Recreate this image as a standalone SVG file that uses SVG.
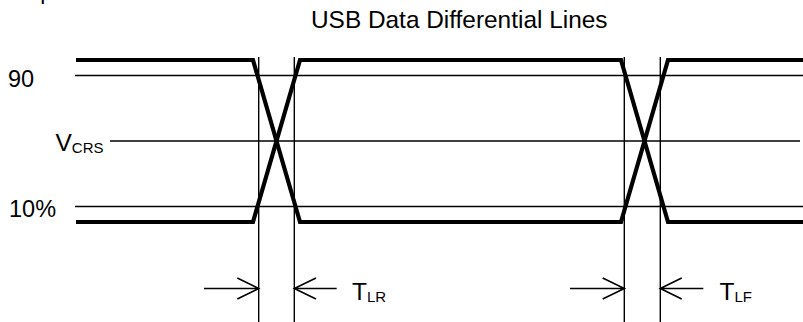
<svg xmlns="http://www.w3.org/2000/svg" width="803" height="322" viewBox="0 0 803 322">
<style>
text{font-family:"Liberation Sans",Arial,sans-serif;fill:#000}
.lbl{font-size:23.5px}
.big{font-size:24.5px}
.sub{font-size:15px}
.thin{stroke:#000;stroke-width:1.4;fill:none}
.sig{stroke:#000;stroke-width:4.2;fill:none;stroke-linejoin:miter}
.arr{stroke:#000;stroke-width:1.6;fill:none}
</style>
<rect width="803" height="322" fill="#fff"/>
<text x="5" y="-1.5" font-size="22">Requirements</text>
<g id="title"><text x="311" y="27.5" font-size="24.4">USB Data Differential Lines</text></g>
<g id="levels">
<line class="thin" x1="75" y1="75.5" x2="803" y2="75.5"/>
<line class="thin" x1="110" y1="141" x2="800" y2="141"/>
<line class="thin" x1="75" y1="206.5" x2="803" y2="206.5"/>
<text class="lbl" x="8" y="87">90</text>
<text class="big" x="55.5" y="151">V<tspan class="sub" dy="2">CRS</tspan></text>
<text class="lbl" x="9" y="217.3">10%</text>
</g>
<g id="markers">
<line class="thin" x1="258.7" y1="57" x2="258.7" y2="322"/>
<line class="thin" x1="294.3" y1="57" x2="294.3" y2="322"/>
<line class="thin" x1="624.3" y1="57" x2="624.3" y2="322"/>
<line class="thin" x1="660.3" y1="57" x2="660.3" y2="322"/>
</g>
<g id="signals">
<polyline class="sig" points="76,60 253,60 300,222 621,222 668,60 803,60"/>
<polyline class="sig" points="76,222 253,222 300,60 621,60 668,222 803,222"/>
</g>
<g id="connectors">
<path class="arr" d="M204,288.5 H258.7 M237.3,278 L258.7,288.5 L237.3,299"/>
<path class="arr" d="M336.7,288.5 H294.3 M316,278 L294.3,288.5 L316,299"/>
<path class="arr" d="M570,288.5 H624.3 M602.7,278 L624.3,288.5 L602.7,299"/>
<path class="arr" d="M703.3,288.5 H660.3 M681.7,278 L660.3,288.5 L681.7,299"/>
</g>
<g id="tlr"><text class="big" x="352" y="299.5">T<tspan class="sub" dy="2">LR</tspan></text></g>
<g id="tlf"><text class="big" x="719.5" y="299.5">T<tspan class="sub" dy="2">LF</tspan></text></g>
</svg>
